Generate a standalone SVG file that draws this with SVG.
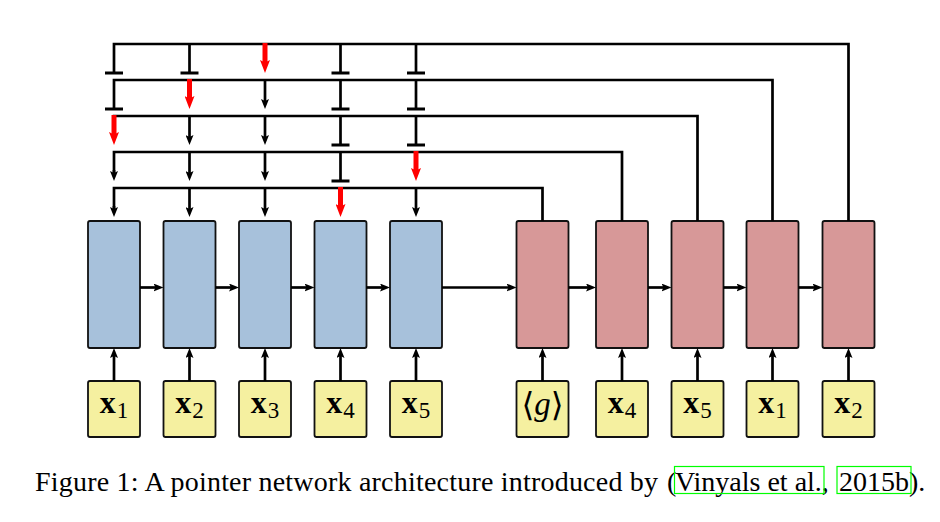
<svg xmlns="http://www.w3.org/2000/svg" width="940" height="522" viewBox="0 0 940 522">
<style>
.enc{fill:#a7c1db;stroke:#111;stroke-width:1.8}
.dec{fill:#d79898;stroke:#111;stroke-width:1.8}
.inp{fill:#f5f0a0;stroke:#111;stroke-width:1.8}
.ln{fill:none;stroke:#000;stroke-width:2.7;stroke-linecap:butt;stroke-linejoin:miter}
.arr{fill:none;stroke:#000;stroke-width:2.7;marker-end:url(#ah)}
.red{fill:none;stroke:#ff0000;stroke-width:5;marker-end:url(#rh)}
.bar{fill:none;stroke:#000;stroke-width:3}
.bx{font-family:"Liberation Serif","DejaVu Serif",serif;font-weight:bold;font-size:32px;fill:#000}
.sub{font-family:"Liberation Serif","DejaVu Serif",serif;font-size:23px;fill:#000}
.lbl{text-anchor:middle}
.cap{font-family:"Liberation Serif","Times New Roman",serif;font-size:28px;fill:#000}
.cite{fill:none;stroke:#00ff00;stroke-width:1.2}
</style>
<defs>
<marker id="ah" viewBox="0 0 10 8" refX="4" refY="4" markerWidth="10" markerHeight="8" markerUnits="userSpaceOnUse" orient="auto">
<path d="M0,0 L10,4 L0,8 L2,4 Z" fill="#000"/>
</marker>
<marker id="rh" viewBox="0 0 13 10" refX="5" refY="5" markerWidth="13" markerHeight="10" markerUnits="userSpaceOnUse" orient="auto">
<path d="M0,0 L13,5 L0,10 L2.5,5 Z" fill="#ff0000"/>
</marker>
</defs>
<rect width="940" height="522" fill="#fff"/>

<!-- encoder nodes -->
<g id="enc1"><rect class="enc" x="88" y="221" width="52" height="127" rx="2"/></g>
<g id="enc2"><rect class="enc" x="163.5" y="221" width="52" height="127" rx="2"/></g>
<g id="enc3"><rect class="enc" x="239" y="221" width="52" height="127" rx="2"/></g>
<g id="enc4"><rect class="enc" x="314.5" y="221" width="52" height="127" rx="2"/></g>
<g id="enc5"><rect class="enc" x="390" y="221" width="52" height="127" rx="2"/></g>
<!-- decoder nodes -->
<g id="dec1"><rect class="dec" x="516.5" y="221" width="52" height="127" rx="2"/></g>
<g id="dec2"><rect class="dec" x="596" y="221" width="52" height="127" rx="2"/></g>
<g id="dec3"><rect class="dec" x="671.5" y="221" width="52" height="127" rx="2"/></g>
<g id="dec4"><rect class="dec" x="746.5" y="221" width="52" height="127" rx="2"/></g>
<g id="dec5"><rect class="dec" x="822.5" y="221" width="52" height="127" rx="2"/></g>

<!-- input nodes -->
<g id="in1"><rect class="inp" x="88" y="381" width="52" height="56" rx="2"/>
<text class="lbl" x="114" y="413"><tspan class="bx">x</tspan><tspan class="sub" dx="1" dy="5">1</tspan></text></g>
<g id="in2"><rect class="inp" x="163.5" y="381" width="52" height="56" rx="2"/>
<text class="lbl" x="189.5" y="413"><tspan class="bx">x</tspan><tspan class="sub" dx="1" dy="5">2</tspan></text></g>
<g id="in3"><rect class="inp" x="239" y="381" width="52" height="56" rx="2"/>
<text class="lbl" x="265" y="413"><tspan class="bx">x</tspan><tspan class="sub" dx="1" dy="5">3</tspan></text></g>
<g id="in4"><rect class="inp" x="314.5" y="381" width="52" height="56" rx="2"/>
<text class="lbl" x="340.5" y="413"><tspan class="bx">x</tspan><tspan class="sub" dx="1" dy="5">4</tspan></text></g>
<g id="in5"><rect class="inp" x="390" y="381" width="52" height="56" rx="2"/>
<text class="lbl" x="416" y="413"><tspan class="bx">x</tspan><tspan class="sub" dx="1" dy="5">5</tspan></text></g>
<g id="din1"><rect class="inp" x="516.5" y="381" width="52" height="56" rx="2"/>
<text class="lbl" x="542.5" y="416"><tspan font-family="DejaVu Sans, sans-serif" font-size="33px">⟨</tspan><tspan font-family="Liberation Serif, serif" font-style="italic" font-size="33px" dy="-1">g</tspan><tspan font-family="DejaVu Sans, sans-serif" font-size="33px" dy="1">⟩</tspan></text></g>
<g id="din2"><rect class="inp" x="596" y="381" width="52" height="56" rx="2"/>
<text class="lbl" x="622" y="413"><tspan class="bx">x</tspan><tspan class="sub" dx="1" dy="5">4</tspan></text></g>
<g id="din3"><rect class="inp" x="671.5" y="381" width="52" height="56" rx="2"/>
<text class="lbl" x="697.5" y="413"><tspan class="bx">x</tspan><tspan class="sub" dx="1" dy="5">5</tspan></text></g>
<g id="din4"><rect class="inp" x="746.5" y="381" width="52" height="56" rx="2"/>
<text class="lbl" x="772.5" y="413"><tspan class="bx">x</tspan><tspan class="sub" dx="1" dy="5">1</tspan></text></g>
<g id="din5"><rect class="inp" x="822.5" y="381" width="52" height="56" rx="2"/>
<text class="lbl" x="848.5" y="413"><tspan class="bx">x</tspan><tspan class="sub" dx="1" dy="5">2</tspan></text></g>

<g id="connectors">
<!-- input to cell arrows -->
<path class="arr" d="M114,381 V354"/>
<path class="arr" d="M189.5,381 V354"/>
<path class="arr" d="M265,381 V354"/>
<path class="arr" d="M340.5,381 V354"/>
<path class="arr" d="M416,381 V354"/>
<path class="arr" d="M542.5,381 V354"/>
<path class="arr" d="M622,381 V354"/>
<path class="arr" d="M697.5,381 V354"/>
<path class="arr" d="M772.5,381 V354"/>
<path class="arr" d="M848.5,381 V354"/>
<!-- recurrent arrows -->
<path class="arr" d="M140,287.5 H157.5"/>
<path class="arr" d="M215.5,287.5 H233"/>
<path class="arr" d="M291,287.5 H308.5"/>
<path class="arr" d="M366.5,287.5 H384"/>
<path class="arr" d="M442,287.5 H510.5"/>
<path class="arr" d="M568.5,287.5 H590"/>
<path class="arr" d="M648,287.5 H665.5"/>
<path class="arr" d="M723.5,287.5 H740.5"/>
<path class="arr" d="M798.5,287.5 H816.5"/>

<!-- attention buses -->
<path class="ln" d="M848.5,221 V44 H114 V73"/>
<path class="ln" d="M772.5,221 V80 H114 V109"/>
<path class="ln" d="M697.5,221 V116 H112.7"/>
<path class="ln" d="M622,221 V152 H114 V175"/>
<path class="ln" d="M542.5,221 V188 H114 V211"/>

<!-- row 1 (y=44) -->
<path class="bar" d="M105,73 H123"/>
<path class="ln" d="M189.5,44 V73"/><path class="bar" d="M180.5,73 H198.5"/>
<path class="ln" d="M340.5,44 V73"/><path class="bar" d="M331.5,73 H349.5"/>
<path class="ln" d="M416,44 V73"/><path class="bar" d="M407,73 H425"/>
<!-- row 2 (y=80) -->
<path class="bar" d="M105,109 H123"/>
<path class="arr" d="M265,80 V103"/>
<path class="ln" d="M340.5,80 V109"/><path class="bar" d="M331.5,109 H349.5"/>
<path class="ln" d="M416,80 V109"/><path class="bar" d="M407,109 H425"/>
<!-- row 3 (y=116) -->
<path class="arr" d="M189.5,116 V139"/>
<path class="arr" d="M265,116 V139"/>
<path class="ln" d="M340.5,116 V145"/><path class="bar" d="M331.5,145 H349.5"/>
<path class="ln" d="M416,116 V145"/><path class="bar" d="M407,145 H425"/>
<!-- row 4 (y=152) -->
<path class="arr" d="M114,170 V175"/>
<path class="arr" d="M189.5,152 V175"/>
<path class="arr" d="M265,152 V175"/>
<path class="ln" d="M340.5,152 V181"/><path class="bar" d="M331.5,181 H349.5"/>
<!-- row 5 (y=188) -->
<path class="arr" d="M114,206 V211"/>
<path class="arr" d="M189.5,188 V211"/>
<path class="arr" d="M265,188 V211"/>
<path class="arr" d="M416,188 V211"/>

<!-- selected pointers (red) -->
<path class="red" d="M265,43 V65"/>
<path class="red" d="M189.5,79 V101"/>
<path class="red" d="M114,115 V137"/>
<path class="red" d="M416,151 V173"/>
<path class="red" d="M340.5,187 V209"/>
</g>

<!-- caption -->
<text class="cap" y="491"><tspan x="35" textLength="623" lengthAdjust="spacing">Figure 1: A pointer network architecture introduced by</tspan><tspan x="667">(</tspan><tspan x="675">Vinyals et al.</tspan><tspan>, </tspan><tspan x="839">2015b</tspan><tspan>).</tspan></text>
<rect class="cite" x="674.5" y="466.5" width="149.5" height="27"/>
<rect class="cite" x="837" y="466.5" width="74" height="27"/>
</svg>
